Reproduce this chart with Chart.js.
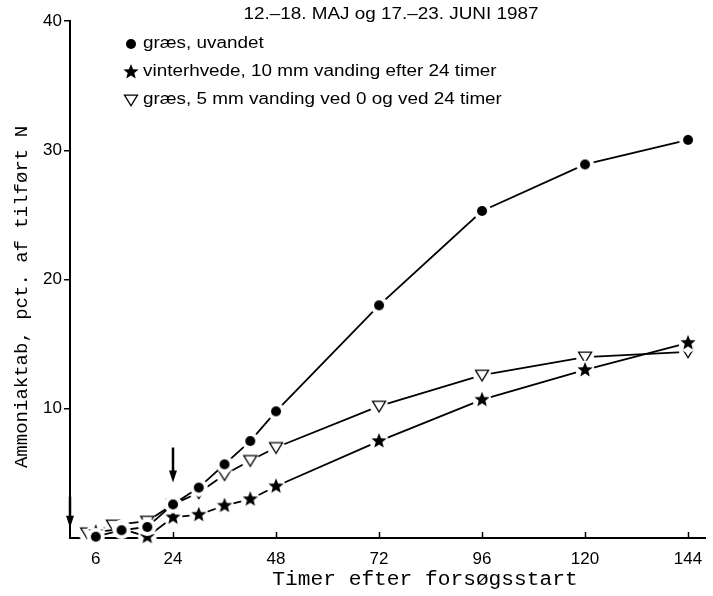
<!DOCTYPE html>
<html>
<head>
<meta charset="utf-8">
<script src="https://cdn.jsdelivr.net/npm/chart.js@4/dist/chart.umd.min.js"></script>
<style>
  html, body { margin: 0; padding: 0; background: #fff; }
  #wrap { width: 713px; height: 596px; }
</style>
</head>
<body>
<div id="wrap"><canvas id="c" width="713" height="596"></canvas></div>
<script>
// Texts
const chartTitle = '12.–18. MAJ og 17.–23. JUNI 1987';
const xTitle = 'Timer efter forsøgsstart';
const yTitle = 'Ammoniaktab, pct. af tilført N';
const seriesLabels = [
  'græs, uvandet',
  'vinterhvede, 10 mm vanding efter 24 timer',
  'græs, 5 mm vanding ved 0 og ved 24 timer'
];

// Measurement times (hours after start)
const hours = [6, 12, 18, 24, 30, 36, 42, 48, 72, 96, 120, 144];
const hoursVandet = [4, 10, 18, 24, 30, 36, 42, 48, 72, 96, 120, 144];

// Ammonia loss, % of applied N
const graesUvandet = [0.1, 0.6, 0.85, 2.6, 3.9, 5.7, 7.5, 9.8, 18.0, 25.3, 28.9, 30.8];
const vinterhvede  = [0.45, 0.7, 0.1, 1.6, 1.8, 2.5, 3.0, 4.0, 7.5, 10.7, 13.0, 15.1];
const graesVandet  = [0.4, 1.0, 1.3, 2.6, 3.5, 4.9, 6.0, 7.0, 10.2, 12.6, 14.0, 14.4];

// Axis ticks
const xTickValues = [6, 24, 48, 72, 96, 120, 144];
const yTickValues = [10, 20, 30, 40];

// Irrigation arrows: hour, top value, tip value
const arrowHours = [0, 24];
const arrowFrom = [3.2, 7.0];
const arrowTo = [0.8, 4.3];

// ---- marker images (white halo keeps the connecting lines clear of the symbol)
function markerCanvas(kind) {
  const size = 26, m = size / 2;
  const c = document.createElement('canvas');
  c.width = size; c.height = size;
  const g = c.getContext('2d');
  const halo = kind === 'circle' ? 9 : kind === 'star' ? 9.5 : 9;
  g.fillStyle = '#fff';
  g.beginPath(); g.arc(m, m, halo, 0, Math.PI * 2); g.fill();
  g.fillStyle = '#000';
  g.strokeStyle = '#000';
  if (kind === 'circle') {
    g.beginPath(); g.arc(m, m, 5, 0, Math.PI * 2); g.fill();
  } else if (kind === 'star') {
    const R = 8, r = 3.5;
    g.beginPath();
    for (let i = 0; i < 10; i++) {
      const a = -Math.PI / 2 + i * Math.PI / 5;
      const rr = i % 2 === 0 ? R : r;
      const px = m + rr * Math.cos(a), py = m + rr * Math.sin(a);
      i === 0 ? g.moveTo(px, py) : g.lineTo(px, py);
    }
    g.closePath(); g.fill();
  } else {
    g.lineWidth = 1.3;
    g.fillStyle = '#fff';
    g.beginPath();
    g.moveTo(m - 6.5, m - 4.8);
    g.lineTo(m + 6.5, m - 4.8);
    g.lineTo(m, m + 5.8);
    g.closePath(); g.fill(); g.stroke();
  }
  return c;
}
const markers = [markerCanvas('circle'), markerCanvas('star'), markerCanvas('triangle')];

function toPoints(xs, ys) { return xs.map((x, i) => ({ x: x, y: ys[i] })); }

function stretchText(ctx, text, x, y, sx, align) {
  ctx.save();
  ctx.translate(x, y);
  ctx.scale(sx, 1);
  ctx.textAlign = align;
  ctx.fillText(text, 0, 0);
  ctx.restore();
}

const decorations = {
  id: 'decorations',
  afterDatasetsDraw(chart) {
    const ctx = chart.ctx;
    const xs = chart.scales.x, ys = chart.scales.y;
    const area = chart.chartArea;
    ctx.save();
    // inward tick marks on the time axis
    ctx.strokeStyle = '#000';
    ctx.lineWidth = 1.5;
    xTickValues.forEach(v => {
      const px = Math.round(xs.getPixelForValue(v)) + 0.5;
      ctx.beginPath();
      ctx.moveTo(px, area.bottom);
      ctx.lineTo(px, area.bottom - 6);
      ctx.stroke();
    });
    // irrigation arrows
    ctx.fillStyle = '#000';
    arrowHours.forEach((h, i) => {
      const px = xs.getPixelForValue(h);
      const y1 = ys.getPixelForValue(arrowFrom[i]);
      const y2 = ys.getPixelForValue(arrowTo[i]);
      ctx.lineWidth = 2.5;
      ctx.beginPath();
      ctx.moveTo(px, y1);
      ctx.lineTo(px, y2 - 8);
      ctx.stroke();
      ctx.beginPath();
      ctx.moveTo(px - 4, y2 - 12);
      ctx.lineTo(px + 4, y2 - 12);
      ctx.lineTo(px, y2);
      ctx.closePath();
      ctx.fill();
    });
    ctx.restore();
  },
  afterDraw(chart) {
    const ctx = chart.ctx;
    ctx.save();
    ctx.fillStyle = '#000';
    ctx.textBaseline = 'middle';
    // title
    ctx.font = '16px "Liberation Sans", Arial, sans-serif';
    stretchText(ctx, chartTitle, 391, 15, 1.18, 'center');
    // legend
    const rows = [44, 72, 100];
    chart.data.datasets.forEach((ds, i) => {
      const img = ds.pointStyle;
      ctx.drawImage(img, 131 - img.width / 2, rows[i] - img.height / 2);
      stretchText(ctx, ds.label, 143, rows[i], 1.18, 'left');
    });
    // axis titles
    ctx.font = '20px "Liberation Mono", "Courier New", monospace';
    stretchText(ctx, xTitle, 425, 580, 1.06, 'center');
    ctx.save();
    ctx.translate(22, 297);
    ctx.rotate(-Math.PI / 2);
    ctx.font = '19px "Liberation Mono", "Courier New", monospace';
    stretchText(ctx, yTitle, 0, 0, 1.0, 'center');
    ctx.restore();
    ctx.restore();
  }
};

const seriesData = [
  toPoints(hours, graesUvandet),
  toPoints(hours, vinterhvede),
  toPoints(hoursVandet, graesVandet)
];

new Chart(document.getElementById('c'), {
  type: 'line',
  data: {
    datasets: seriesData.map((pts, i) => ({
      label: seriesLabels[i],
      data: pts,
      borderColor: '#000',
      borderWidth: 1.8,
      backgroundColor: '#000',
      pointStyle: markers[i],
      pointRadius: 6,
      tension: 0,
      fill: false,
      clip: false
    }))
  },
  options: {
    responsive: false,
    animation: false,
    devicePixelRatio: 1,
    layout: { padding: { top: 21, right: 5, left: 0, bottom: 0 } },
    plugins: {
      legend: { display: false },
      title: { display: false },
      tooltip: { enabled: false }
    },
    scales: {
      x: {
        type: 'linear',
        min: 0,
        max: 148,
        z: 1,
        afterBuildTicks: s => { s.ticks = xTickValues.map(v => ({ value: v })); },
        afterFit: s => { s.height = 58; },
        grid: { display: false },
        border: { display: true, color: '#000', width: 2 },
        ticks: {
          color: '#000',
          padding: 3,
          maxRotation: 0,
          autoSkip: false,
          font: { family: '"Liberation Sans", Arial, sans-serif', size: 17 }
        }
      },
      y: {
        min: 0,
        max: 40,
        z: 1,
        afterBuildTicks: s => { s.ticks = yTickValues.map(v => ({ value: v })); },
        afterFit: s => { s.width = 70; },
        grid: { display: true, drawOnChartArea: false, drawTicks: true, tickLength: 6, color: '#000', lineWidth: 1.5 },
        border: { display: true, color: '#000', width: 2 },
        ticks: {
          color: '#000',
          padding: 2,
          font: { family: '"Liberation Sans", Arial, sans-serif', size: 17 }
        }
      }
    }
  },
  plugins: [decorations]
});
</script>
</body>
</html>
